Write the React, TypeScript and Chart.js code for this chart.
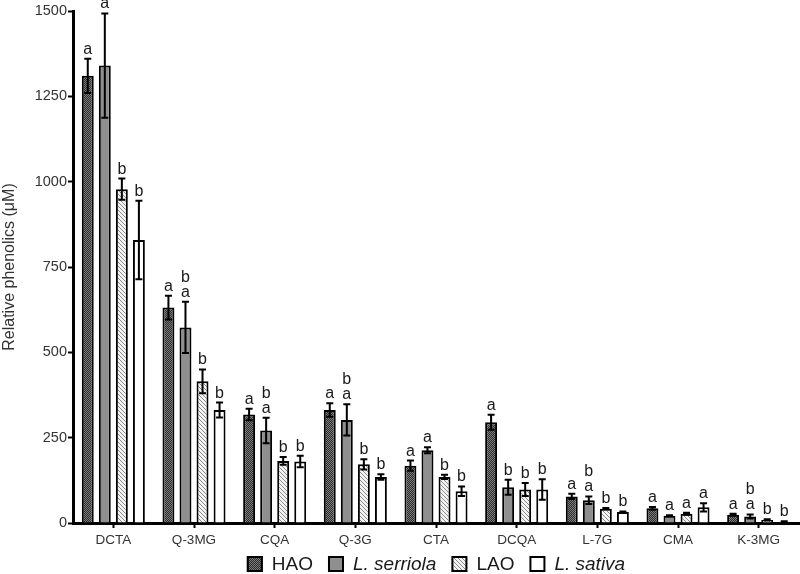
import React, { useEffect, useRef } from "react";
import { Chart, registerables } from "chart.js";

Chart.register(...registerables);

const categories = ["DCTA", "Q-3MG", "CQA", "Q-3G", "CTA", "DCQA", "L-7G", "CMA", "K-3MG"];

const seriesNames = ["HAO", "L. serriola", "LAO", "L. sativa"];
const seriesItalic = [false, true, false, true];

const haoValues = [1310, 631, 318, 331, 168, 295, 78, 43, 24];
const haoErrors = [50, 35, 17, 20, 15, 22, 8, 4, 3];
const haoLetters = ["a", "a", "a", "a", "a", "a", "a", "a", "a"];

const serriolaValues = [1340, 573, 271, 302, 213, 105, 67, 21, 19];
const serriolaErrors = [153, 75, 37, 46, 9, 22, 11, 2, 6];
const serriolaLetters = ["a", "ab", "ab", "ab", "a", "b", "ab", "a", "ab"];

const laoValues = [978, 415, 182, 172, 135, 98, 42, 27, 9];
const laoErrors = [31, 35, 11, 15, 6, 19, 2, 3, 2];
const laoLetters = ["b", "b", "b", "b", "b", "b", "b", "a", "b"];

const sativaValues = [829, 331, 180, 135, 93, 98, 32, 46, 4];
const sativaErrors = [115, 22, 17, 8, 14, 30, 2, 12, 1];
const sativaLetters = ["b", "b", "b", "b", "b", "b", "b", "a", "b"];

const yTicks = [0, 250, 500, 750, 1000, 1250, 1500];
const yTitle = "Relative phenolics (μM)";

const FONT = "'Liberation Sans', Arial, Helvetica, sans-serif";

function makePattern(kind: string): CanvasPattern | string {
  const c = document.createElement("canvas");
  const g = c.getContext("2d") as CanvasRenderingContext2D;
  if (kind === "dots") {
    c.width = 2;
    c.height = 2;
    g.fillStyle = "#2c2c2c";
    g.fillRect(0, 0, 2, 2);
    g.fillStyle = "#7c7c7c";
    g.fillRect(0, 0, 1, 1);
    g.fillRect(1, 1, 1, 1);
  } else if (kind === "hatch") {
    c.width = 4;
    c.height = 4;
    g.fillStyle = "#f4f4f4";
    g.fillRect(0, 0, 4, 4);
    g.fillStyle = "#8a8a8a";
    for (let i = 0; i < 4; i++) {
      g.fillRect(i, i, 1, 1);
    }
  } else {
    return kind;
  }
  const p = (c.getContext("2d") as CanvasRenderingContext2D).createPattern(c, "repeat");
  return p as CanvasPattern;
}

export default function App() {
  const ref = useRef<HTMLCanvasElement | null>(null);

  useEffect(() => {
    document.body.style.margin = "0";
    const canvas = ref.current;
    if (!canvas) return;
    const fills = [makePattern("dots"), "#8f8f8f", makePattern("hatch"), "#ffffff"];
    const values = [haoValues, serriolaValues, laoValues, sativaValues];
    const errors = [haoErrors, serriolaErrors, laoErrors, sativaErrors];
    const letters = [haoLetters, serriolaLetters, laoLetters, sativaLetters];

    const errorPlugin = {
      id: "errorLetters",
      afterDatasetsDraw(chart: any) {
        const ctx = chart.ctx as CanvasRenderingContext2D;
        const ys = chart.scales.y;
        ctx.save();
        ctx.strokeStyle = "#000";
        ctx.lineWidth = 2;
        values.forEach((vals, di) => {
          const meta = chart.getDatasetMeta(di);
          meta.data.forEach((el: any, j: number) => {
            const v = vals[j];
            const e = errors[di][j];
            const x = el.x;
            const yT = ys.getPixelForValue(v + e);
            const yB = ys.getPixelForValue(Math.max(0, v - e));
            ctx.beginPath();
            ctx.moveTo(x, yT);
            ctx.lineTo(x, yB);
            ctx.moveTo(x - 3.5, yT);
            ctx.lineTo(x + 3.5, yT);
            ctx.moveTo(x - 3.5, yB);
            ctx.lineTo(x + 3.5, yB);
            ctx.stroke();
            const lt = letters[di][j];
            ctx.fillStyle = "#1a1a1a";
            ctx.font = `16px ${FONT}`;
            ctx.textAlign = "center";
            ctx.textBaseline = "alphabetic";
            for (let k = 0; k < lt.length; k++) {
              ctx.fillText(lt[k], x, yT - 5 - k * 15);
            }
          });
        });
        ctx.restore();
      },
      afterDraw(chart: any) {
        const ctx = chart.ctx as CanvasRenderingContext2D;
        const area = chart.chartArea;
        const box = 16;
        const gapText = 9;
        const gapItem = 15;
        ctx.save();
        const widths = seriesNames.map((n, i) => {
          ctx.font = `${seriesItalic[i] ? "italic " : ""}19px ${FONT}`;
          return ctx.measureText(n).width;
        });
        const total = widths.reduce((a, w) => a + box + gapText + w, 0) + gapItem * (seriesNames.length - 1);
        let x = (area.left + area.right) / 2 - total / 2;
        const cy = 564;
        seriesNames.forEach((n, i) => {
          ctx.fillStyle = fills[i] as any;
          ctx.fillRect(x, cy - box / 2, box, box);
          ctx.strokeStyle = "#000";
          ctx.lineWidth = 2;
          ctx.strokeRect(x + 1, cy - box / 2 + 1, box - 2, box - 2);
          x += box + gapText;
          ctx.font = `${seriesItalic[i] ? "italic " : ""}19px ${FONT}`;
          ctx.fillStyle = "#1a1a1a";
          ctx.textAlign = "left";
          ctx.textBaseline = "middle";
          ctx.fillText(n, x, cy + 1);
          x += widths[i] + gapItem;
        });
        ctx.restore();
      },
    };

    const chart = new Chart(canvas, {
      type: "bar",
      data: {
        labels: categories,
        datasets: values.map((vals, i) => ({
          label: seriesNames[i],
          data: vals,
          backgroundColor: fills[i] as any,
          borderColor: "#000",
          borderWidth: 2,
          categoryPercentage: 0.845,
          barPercentage: 0.7,
        })),
      },
      options: {
        responsive: false,
        animation: false,
        devicePixelRatio: 1,
        layout: { padding: { top: 11, right: 1, left: 0, bottom: 0 } },
        plugins: {
          legend: { display: false },
          tooltip: { enabled: false },
        },
        scales: {
          x: {
            grid: {
              display: true,
              drawOnChartArea: false,
              offset: false,
              tickLength: 5,
              tickWidth: 2,
              color: "#000",
            },
            border: { display: true, width: 3, color: "#000" },
            ticks: {
              font: { family: FONT, size: 13.5 },
              color: "#333",
              padding: 4,
              maxRotation: 0,
            },
            afterFit: (s: any) => {
              s.height = 51;
            },
          },
          y: {
            min: 0,
            max: 1500,
            afterBuildTicks: (s: any) => {
              s.ticks = yTicks.map((v) => ({ value: v }));
            },
            grid: {
              display: true,
              drawOnChartArea: false,
              tickLength: 5,
              tickWidth: 2,
              color: "#000",
            },
            border: { display: true, width: 3, color: "#000" },
            ticks: {
              font: { family: FONT, size: 14.5 },
              color: "#333",
              padding: 1,
              callback: (v: any) => String(v),
            },
            title: {
              display: true,
              text: yTitle,
              font: { family: FONT, size: 16 },
              color: "#333",
              padding: { top: 0, bottom: 0 },
            },
            afterFit: (s: any) => {
              s.width = 73;
            },
          },
        },
      },
      plugins: [errorPlugin],
    });
    return () => chart.destroy();
  }, []);

  return (
    <div style={{ width: 800, height: 574 }}>
      <canvas ref={ref} width={800} height={574} />
    </div>
  );
}
